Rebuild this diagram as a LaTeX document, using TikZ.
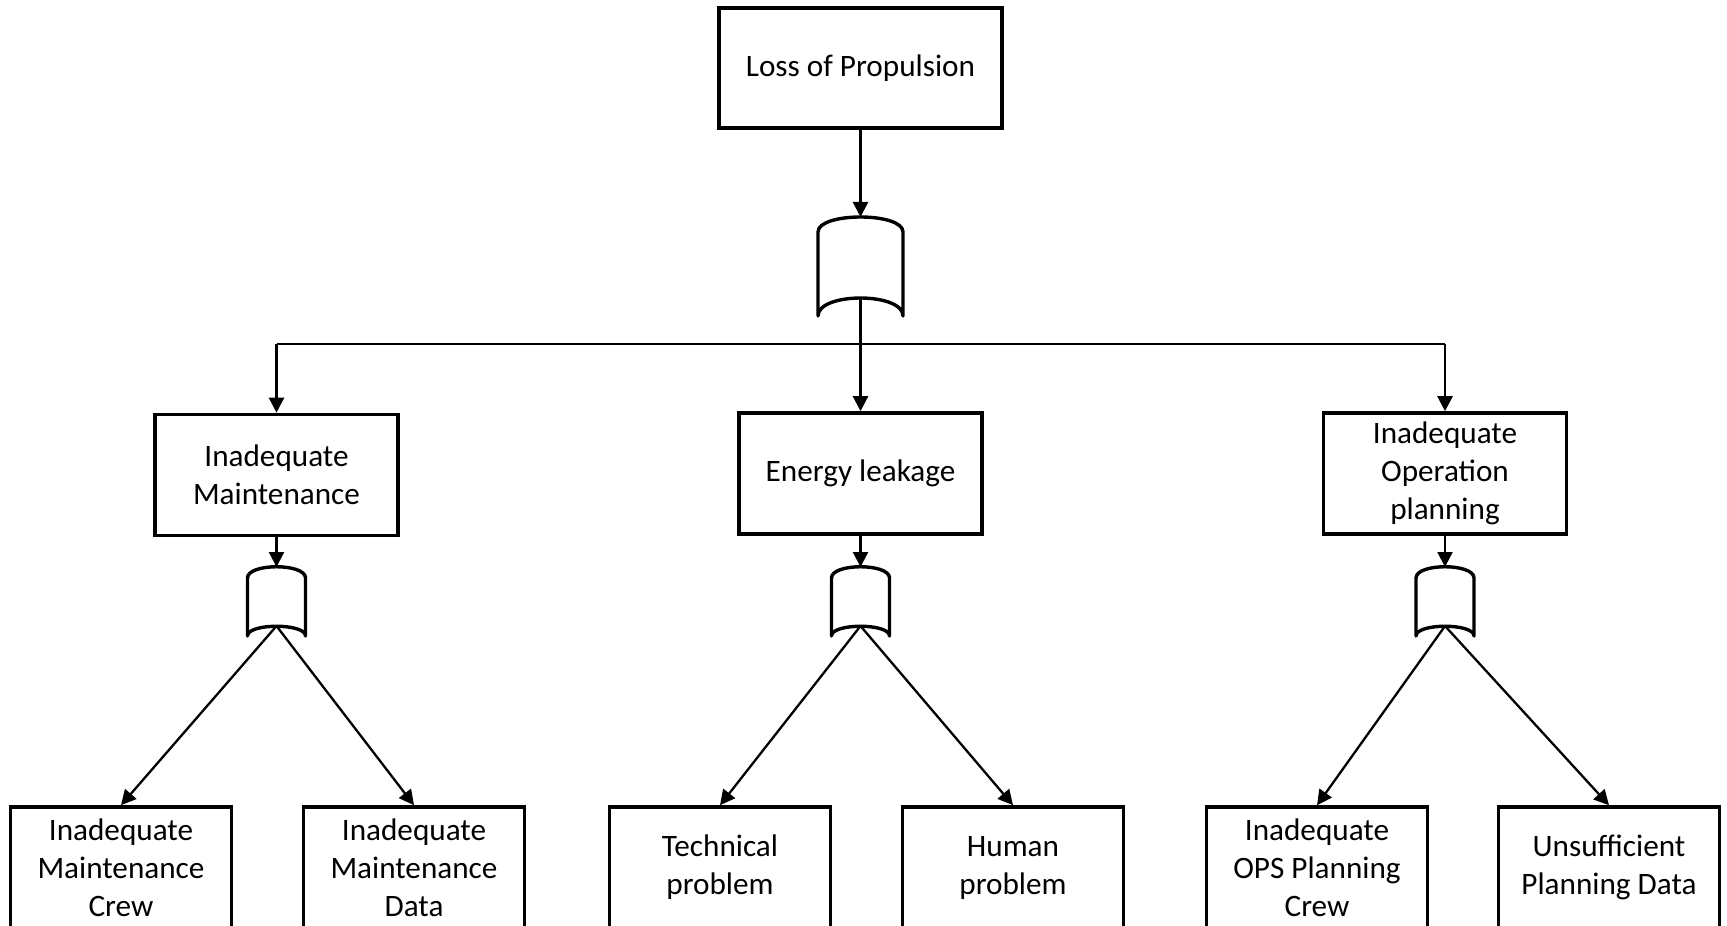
\documentclass[tikz,border=0pt]{standalone}
\usepackage{fontspec}
\setmainfont{Carlito}
\usetikzlibrary{arrows.meta}
\tikzset{
  box/.style={draw=black, line width=1.8pt, fill=white, align=center, inner sep=0pt,
    font=\fontsize{15.6}{19}\selectfont},
  midbox/.style={box, minimum width=121.5pt, minimum height=60.5pt},
  leafbox/.style={box, minimum width=110.5pt, minimum height=60.5pt},
  conn/.style={line width=1.15pt, -{Triangle[length=7.5pt,width=7.5pt]}},
  plain/.style={line width=1.15pt},
  gate/.style={line width=1.7pt, line join=round, line cap=round}
}
\begin{document}
\begin{tikzpicture}[x=0.5pt, y=-0.5pt]
\useasboundingbox (0,0) rectangle (1727,925);
\clip (0,0) rectangle (1727,925);
% top event
\node[box, minimum width=141.5pt, minimum height=60pt] (top) at (860.5,68) {Loss of Propulsion};
% top gate
\draw[gate] (818,316) -- (818,232) .. controls (818,212) and (903,212) .. (903,232) -- (903,316)
  .. controls (903,292) and (818,292) .. (818,316);
\coordinate (g0in) at (860.5,217);
\coordinate (g0out) at (860.5,298);
% middle events
\node[midbox] (A) at (276.5,475) {Inadequate\\Maintenance};
\node[midbox] (B) at (860.5,473.5) {Energy leakage};
\node[midbox] (C) at (1445,473.5) {Inadequate\\Operation\\planning};
% gates
\foreach \n/\cx in {1/276.5, 2/860.5, 3/1445}{
  \draw[gate] (\cx-29,636) -- (\cx-29,578) .. controls (\cx-29,563) and (\cx+29,563) .. (\cx+29,578) -- (\cx+29,636)
    .. controls (\cx+29,623) and (\cx-29,623) .. (\cx-29,636);
  \coordinate (g\n in) at (\cx,567);
  \coordinate (g\n out) at (\cx,626);
}
% leaf events
\node[leafbox] (L1) at (121,867.5) {Inadequate\\Maintenance\\Crew};
\node[leafbox] (L2) at (414,867.5) {Inadequate\\Maintenance\\Data};
\node[leafbox] (L3) at (720,867.5) {Technical\\problem};
\node[leafbox] (L4) at (1013,867.5) {Human\\problem};
\node[leafbox] (L5) at (1317,867.5) {Inadequate\\OPS Planning\\Crew};
\node[leafbox] (L6) at (1609,867.5) {Unsufficient\\Planning Data};
% connectors
\coordinate (busL) at (276.5,344);
\coordinate (busR) at (1445,344);
\draw[conn] (top.south) -- (g0in);
\draw[conn] (g0out) -- (B.north);
\draw[plain] (busL) -- (busR);
\draw[conn] (busL) -- (A.north);
\draw[conn] (busR) -- (C.north);
\draw[conn] (A.south) -- (g1in);
\draw[conn] (B.south) -- (g2in);
\draw[conn] (C.south) -- (g3in);
\draw[conn] (g1out) -- (L1.north);
\draw[conn] (g1out) -- (L2.north);
\draw[conn] (g2out) -- (L3.north);
\draw[conn] (g2out) -- (L4.north);
\draw[conn] (g3out) -- (L5.north);
\draw[conn] (g3out) -- (L6.north);
\end{tikzpicture}
\end{document}
